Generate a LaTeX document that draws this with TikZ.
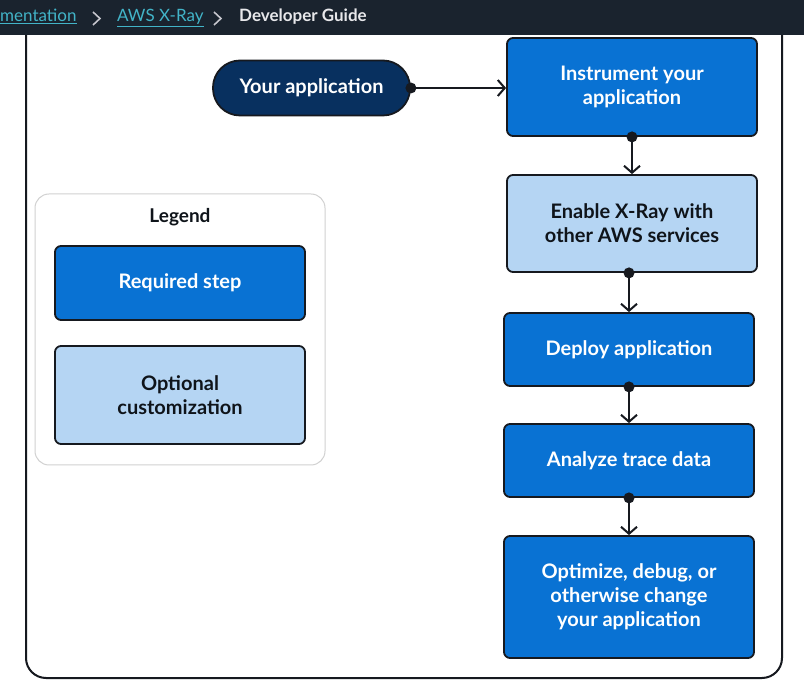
\documentclass[tikz,border=0pt]{standalone}
\usepackage{fontspec}
\setmainfont{Lato}
\usetikzlibrary{positioning}
\usetikzlibrary{arrows.meta}

\definecolor{barbg}{HTML}{1A232E}
\definecolor{crumblink}{HTML}{42B4C8}
\definecolor{crumbsep}{HTML}{C6C6CD}
\definecolor{required}{HTML}{0972D3}
\definecolor{optional}{HTML}{B5D5F3}
\definecolor{appfill}{HTML}{08305F}
\definecolor{edge}{HTML}{16191F}
\definecolor{ink}{HTML}{0F141A}

\tikzset{
  stepbox/.style={draw=edge, line width=1.8pt, rounded corners=6pt,
                  fill=required, text=white, align=center,
                  font=\bfseries\fontsize{20}{24}\selectfont,
                  minimum width=250pt, inner sep=0pt},
  optbox/.style={stepbox, fill=optional, text=ink},
  flow/.style={-{Straight Barb[length=7pt,width=16pt]}, line width=2pt, draw=edge},
  crumb/.style={font=\fontsize{17}{20}\selectfont, inner sep=0pt, anchor=base west},
}

\begin{document}
\begin{tikzpicture}[x=1pt,y=-1pt]
    \useasboundingbox (0,0) rectangle (804,684);
    \fill[white] (0,0) rectangle (804,684);

    % outer panel
    \draw[edge, line width=2pt, rounded corners=20pt] (26,-40) rectangle (782,678);

    % top bar with breadcrumb
    \fill[barbg] (0,0) rectangle (804,35);
    \node (doc) [crumb, text=crumblink] at (0,22) {\underline{mentation}};
    \node (xray) [crumb, text=crumblink] at (117,22) {\underline{AWS X-Ray}};
    \node (guide) [crumb, text=crumbsep!40!white, font=\bfseries\fontsize{17}{20}\selectfont] at (239,22) {Developer Guide};
    \foreach \x in {93,214} {
      \draw[crumbsep, line width=1.6pt] (\x,12) -- (\x+7,18.5) -- (\x,25);
    }

    % start
    \node (app) [draw=edge, line width=1.8pt, fill=appfill, text=white,
                 rounded corners=27pt, minimum width=197pt, minimum height=55pt,
                 font=\bfseries\fontsize{20}{24}\selectfont] at (311.5,88) {Your application};

    % steps
    \node (inst)    [stepbox, minimum height=98pt]  at (632,87)    {Instrument your\\application};
    \node (enable)  [optbox,  minimum height=97pt]  at (632,223.5) {Enable X-Ray with\\other AWS services};
    \node (deploy)  [stepbox, minimum height=73pt]  at (629,349.5) {Deploy application};
    \node (analyze) [stepbox, minimum height=73pt]  at (629,460.5) {Analyze trace data};
    \node (optim)   [stepbox, minimum height=122pt] at (629,597)   {Optimize, debug, or\\otherwise change\\your application};

    % legend
    \draw[black!18, line width=1pt, rounded corners=14pt] (35,194) rectangle (325,465);
    \node (legend) [text=ink, font=\bfseries\fontsize{19}{24}\selectfont] at (180,217) {Legend};
    \node (req) [stepbox, minimum height=74pt] at (180,283) {Required step};
    \node (opt) [optbox,  minimum height=98pt] at (180,395) {Optional\\customization};

    % connectors
    \draw[flow] (app.east) -- (inst.west |- app.east);
    \fill[edge] (app.east) circle (5.5pt);

    \foreach \a/\b in {inst/enable,enable/deploy,deploy/analyze,analyze/optim} {
      \draw[flow] (\b.north |- \a.south) -- (\b.north);
      \fill[edge] (\b.north |- \a.south) circle (5.5pt);
    }

\end{tikzpicture}
\end{document}
